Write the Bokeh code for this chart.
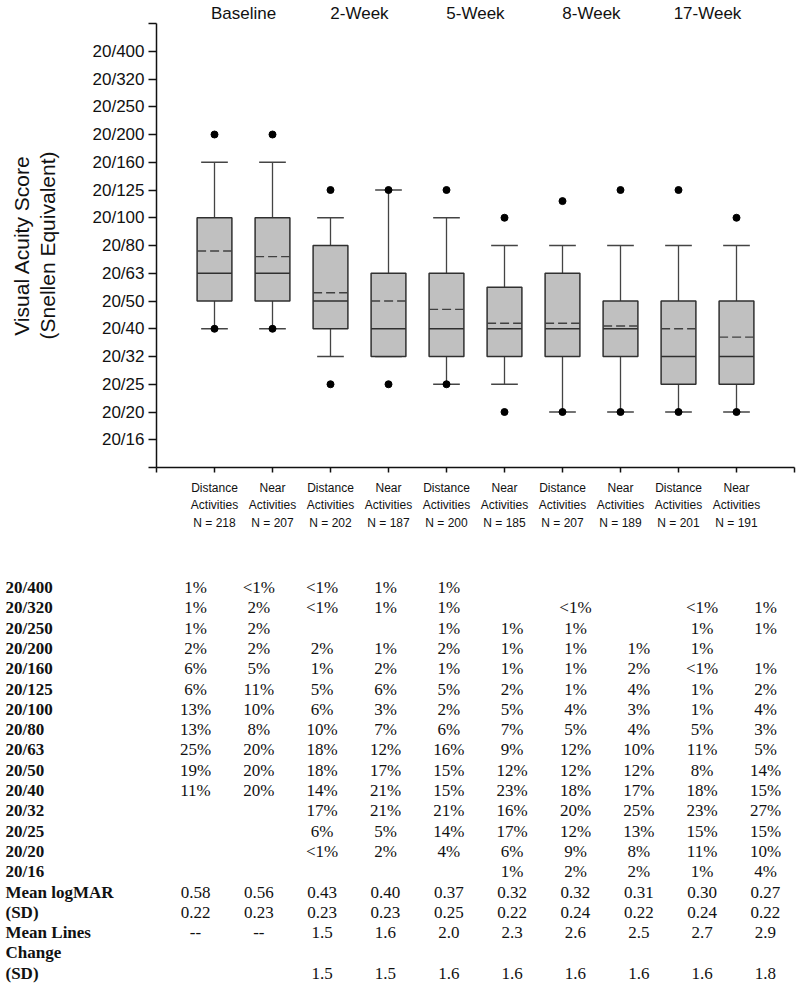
from bokeh.plotting import figure
from bokeh.models import Range1d, FixedTicker, LinearAxis, ColumnDataSource
from bokeh.embed import file_html
from bokeh.resources import INLINE
from bokeh.core.properties import value

# ---------------- data ----------------
groups = ["Baseline", "2-Week", "5-Week", "8-Week", "17-Week"]
activities = ["Distance", "Near", "Distance", "Near", "Distance",
              "Near", "Distance", "Near", "Distance", "Near"]
n_values = [218, 207, 202, 187, 200, 185, 207, 189, 201, 191]

snellen_labels = ["20/16", "20/20", "20/25", "20/32", "20/40", "20/50", "20/63",
                  "20/80", "20/100", "20/125", "20/160", "20/200", "20/250",
                  "20/320", "20/400"]
snellen_logmar = [-0.1, 0.0, 0.1, 0.2, 0.3, 0.4, 0.5, 0.6, 0.7, 0.8, 0.9,
                  1.0, 1.1, 1.2, 1.3]

q1 = [0.4, 0.4, 0.3, 0.2, 0.2, 0.2, 0.2, 0.2, 0.1, 0.1]
median = [0.5, 0.5, 0.4, 0.3, 0.3, 0.3, 0.3, 0.3, 0.2, 0.2]
q3 = [0.7, 0.7, 0.6, 0.5, 0.5, 0.45, 0.5, 0.4, 0.4, 0.4]
whisker_low = [0.3, 0.3, 0.2, 0.2, 0.1, 0.1, 0.0, 0.0, 0.0, 0.0]
whisker_high = [0.9, 0.9, 0.7, 0.8, 0.7, 0.6, 0.6, 0.6, 0.6, 0.6]
pct5 = [0.3, 0.3, 0.1, 0.1, 0.1, 0.0, 0.0, 0.0, 0.0, 0.0]
pct95 = [1.0, 1.0, 0.8, 0.8, 0.8, 0.7, 0.76, 0.8, 0.8, 0.7]
mean_logmar = [0.58, 0.56, 0.43, 0.40, 0.37, 0.32, 0.32, 0.31, 0.30, 0.27]
sd_logmar = [0.22, 0.23, 0.23, 0.23, 0.25, 0.22, 0.24, 0.22, 0.24, 0.22]
mean_lines = ["--", "--", "1.5", "1.6", "2.0", "2.3", "2.6", "2.5", "2.7", "2.9"]
sd_lines = ["", "", "1.5", "1.5", "1.6", "1.6", "1.6", "1.6", "1.6", "1.8"]

pct_20_400 = ["1%", "<1%", "<1%", "1%", "1%", "", "", "", "", ""]
pct_20_320 = ["1%", "2%", "<1%", "1%", "1%", "", "<1%", "", "<1%", "1%"]
pct_20_250 = ["1%", "2%", "", "", "1%", "1%", "1%", "", "1%", "1%"]
pct_20_200 = ["2%", "2%", "2%", "1%", "2%", "1%", "1%", "1%", "1%", ""]
pct_20_160 = ["6%", "5%", "1%", "2%", "1%", "1%", "1%", "2%", "<1%", "1%"]
pct_20_125 = ["6%", "11%", "5%", "6%", "5%", "2%", "1%", "4%", "1%", "2%"]
pct_20_100 = ["13%", "10%", "6%", "3%", "2%", "5%", "4%", "3%", "1%", "4%"]
pct_20_80 = ["13%", "8%", "10%", "7%", "6%", "7%", "5%", "4%", "5%", "3%"]
pct_20_63 = ["25%", "20%", "18%", "12%", "16%", "9%", "12%", "10%", "11%", "5%"]
pct_20_50 = ["19%", "20%", "18%", "17%", "15%", "12%", "12%", "12%", "8%", "14%"]
pct_20_40 = ["11%", "20%", "14%", "21%", "15%", "23%", "18%", "17%", "18%", "15%"]
pct_20_32 = ["", "", "17%", "21%", "21%", "16%", "20%", "25%", "23%", "27%"]
pct_20_25 = ["", "", "6%", "5%", "14%", "17%", "12%", "13%", "15%", "15%"]
pct_20_20 = ["", "", "<1%", "2%", "4%", "6%", "9%", "8%", "11%", "10%"]
pct_20_16 = ["", "", "", "", "", "1%", "2%", "2%", "1%", "4%"]

# ---------------- box plot ----------------
SANS = "Liberation Sans"
SERIF = "Liberation Serif"
xs = list(range(1, len(q1) + 1))
BOX_W = 0.6
CAP_W = 0.46

p = figure(width=798, height=548, x_range=Range1d(0, 11), y_range=Range1d(-0.2, 1.4),
           output_backend="svg", toolbar_location=None,
           min_border_left=156, min_border_right=4, min_border_top=0, min_border_bottom=81)
p.outline_line_color = None
p.xgrid.grid_line_color = None
p.ygrid.grid_line_color = None
p.background_fill_color = "white"

# whiskers
p.segment(x0=xs, y0=q3, x1=xs, y1=whisker_high, line_color="#444444", line_width=1.3)
p.segment(x0=xs, y0=whisker_low, x1=xs, y1=q1, line_color="#444444", line_width=1.3)
p.segment(x0=[x - CAP_W / 2 for x in xs], y0=whisker_high,
          x1=[x + CAP_W / 2 for x in xs], y1=whisker_high, line_color="#444444", line_width=1.3)
p.segment(x0=[x - CAP_W / 2 for x in xs], y0=whisker_low,
          x1=[x + CAP_W / 2 for x in xs], y1=whisker_low, line_color="#444444", line_width=1.3)
# boxes
p.vbar(x=xs, width=BOX_W, bottom=q1, top=q3, fill_color="#c0c0c0",
       line_color="#303030", line_width=1.5)
# median
p.segment(x0=[x - BOX_W / 2 for x in xs], y0=median,
          x1=[x + BOX_W / 2 for x in xs], y1=median, line_color="#303030", line_width=1.4)
# mean (dashed)
p.segment(x0=[x - BOX_W / 2 for x in xs], y0=mean_logmar,
          x1=[x + BOX_W / 2 for x in xs], y1=mean_logmar, line_color="#404040",
          line_width=1.4, line_dash="9 4")
# 5th / 95th percentile dots
p.scatter(x=xs + xs, y=pct5 + pct95, size=7, color="black")

# y axis
y_ticks = [-0.2] + snellen_logmar + [1.4]
y_over = {-0.2: "", 1.4: ""}
for v, lab in zip(snellen_logmar, snellen_labels):
    y_over[v] = lab
p.yaxis.ticker = FixedTicker(ticks=y_ticks)
p.yaxis.major_label_overrides = y_over
p.yaxis.minor_tick_line_color = None
p.yaxis.major_tick_in = 0
p.yaxis.major_tick_out = 8
p.yaxis.major_label_standoff = 4
p.yaxis.major_label_text_font = SANS
p.yaxis.major_label_text_font_size = "17px"
p.yaxis.major_label_text_color = "#111111"
p.yaxis.axis_label = "Visual Acuity Score\n(Snellen Equivalent)"
p.yaxis.axis_label_text_font = SANS
p.yaxis.axis_label_text_font_size = "21px"
p.yaxis.axis_label_text_font_style = "normal"
p.yaxis.axis_label_text_color = "#111111"
p.yaxis.axis_label_text_line_height = 1.1
p.yaxis.axis_label_standoff = 31

# x axis
x_over = {0: "", 11: ""}
for i, (act, n) in enumerate(zip(activities, n_values)):
    x_over[i + 1] = f"{act}\nActivities\nN = {n}"
p.xaxis.ticker = FixedTicker(ticks=list(range(0, 12)))
p.xaxis.major_label_overrides = x_over
p.xaxis.minor_tick_line_color = None
p.xaxis.major_tick_in = 0
p.xaxis.major_tick_out = 5
p.xaxis.major_label_standoff = 8
p.xaxis.major_label_text_font = SANS
p.xaxis.major_label_text_font_size = "12px"
p.xaxis.major_label_text_line_height = 1.28
p.xaxis.major_label_text_color = "#111111"

for ax in (p.xaxis, p.yaxis):
    ax.axis_line_color = "#111111"
    ax.axis_line_width = 1.5
    ax.major_tick_line_color = "#111111"
    ax.major_tick_line_width = 1.5

# group labels: an axis above the plot without line or ticks
group_centers = [2 * gi + 1.5 for gi in range(len(groups))]
top_axis = LinearAxis(ticker=FixedTicker(ticks=group_centers),
                      major_label_overrides={c: g for c, g in zip(group_centers, groups)},
                      axis_line_color=None, major_tick_line_color=None,
                      minor_tick_line_color=None, major_tick_in=0, major_tick_out=0,
                      major_label_standoff=1, major_label_text_font=SANS,
                      major_label_text_font_size="17px", major_label_text_color="#111111")
p.add_layout(top_axis, "above")

# ---------------- table ----------------
row_labels = ["20/400", "20/320", "20/250", "20/200", "20/160", "20/125", "20/100",
              "20/80", "20/63", "20/50", "20/40", "20/32", "20/25", "20/20", "20/16",
              "Mean logMAR", "(SD)", "Mean Lines", "Change", "(SD)"]
row_values = [pct_20_400, pct_20_320, pct_20_250, pct_20_200, pct_20_160, pct_20_125,
              pct_20_100, pct_20_80, pct_20_63, pct_20_50, pct_20_40, pct_20_32,
              pct_20_25, pct_20_20, pct_20_16,
              [f"{v:.2f}" for v in mean_logmar], [f"{v:.2f}" for v in sd_logmar],
              mean_lines, [""] * 10, sd_lines]

T_W, T_H = 798, 436
ROW_H = 20.3
COL_W = 63.33
x0 = 1 - 195 / COL_W
y_top = -39 / ROW_H
t = figure(width=T_W, height=T_H, output_backend="svg", toolbar_location=None,
           x_range=Range1d(x0, x0 + T_W / COL_W),
           y_range=Range1d(y_top + T_H / ROW_H, y_top),
           x_axis_location=None, y_axis_location=None,
           min_border=0, min_border_left=0, min_border_right=0,
           min_border_top=0, min_border_bottom=0)
t.outline_line_color = None
t.xgrid.grid_line_color = None
t.ygrid.grid_line_color = None

cx, cy, ctext = [], [], []
for r, vals in enumerate(row_values):
    for c, txt in enumerate(vals):
        if txt:
            cx.append(c + 1)
            cy.append(r)
            ctext.append(txt)
t.text(x="x", y="y", text="text", source=ColumnDataSource(dict(x=cx, y=cy, text=ctext)),
       text_align="center", text_baseline="middle", text_font=value(SERIF),
       text_font_size="17px", text_color="#111111")
t.text(x=[x0 + 5 / COL_W] * len(row_labels), y=list(range(len(row_labels))), text=row_labels,
       text_align="left", text_baseline="middle", text_font=value(SERIF),
       text_font_size="17px", text_font_style="bold", text_color="#111111")

open("out.html", "w").write(file_html([p, t], INLINE))
